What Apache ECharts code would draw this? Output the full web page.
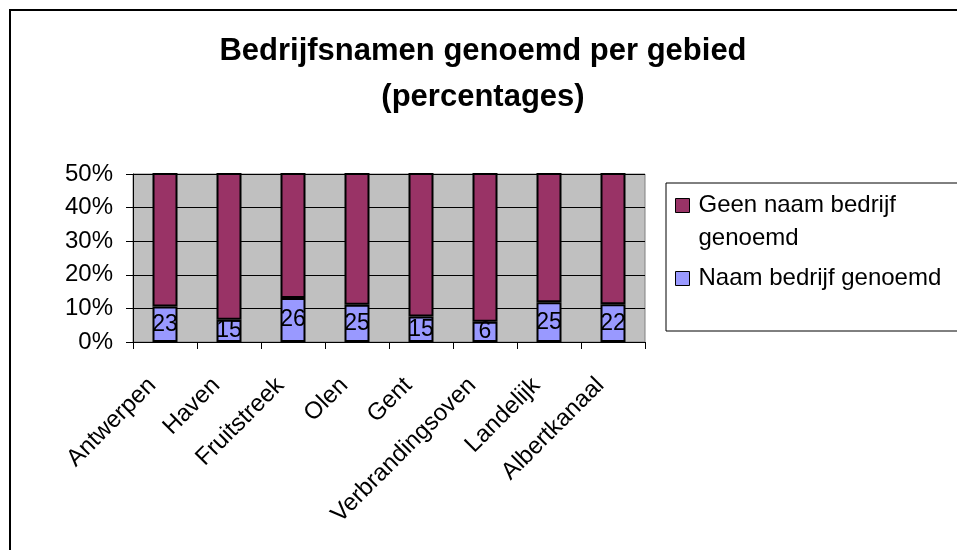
<!DOCTYPE html>
<html>
<head>
<meta charset="utf-8">
<script src="https://cdn.jsdelivr.net/npm/echarts@6/dist/echarts.min.js"></script>
<style>
html,body{margin:0;padding:0;background:#fff}
#main{width:957px;height:550px}
</style>
</head>
<body>
<div id="main"></div>
<script>
var gebieden=['Antwerpen','Haven','Fruitstreek','Olen','Gent','Verbrandingsoven','Landelijk','Albertkanaal']
var naamPct=[10.6,6.6,13.1,11.1,7.6,6.0,11.8,11.2]      // % naam bedrijf genoemd
var geenPct=[89.4,93.4,86.9,88.9,92.4,94.0,88.2,88.8]   // % geen naam (rest tot 100)
var naamAantal=[23,15,26,25,15,6,25,22]                 // labels in de blauwe balken
var yTicks=[0,10,20,30,40,50]

var font='"Liberation Sans", Arial, sans-serif'
var myChart=echarts.init(document.getElementById('main'))
var option={
    backgroundColor:'#fff',
    textStyle:{fontFamily:font,color:'#000'},
    title:{
        text:'Bedrijfsnamen genoemd per gebied\n(percentages)',
        left:478,
        textAlign:'center',
        top:23,
        textStyle:{fontSize:31,fontWeight:'bold',color:'#000',lineHeight:46,fontFamily:font}
    },
    graphic:[
        {type:'rect',z:0,shape:{x:10,y:10,width:1200,height:1200},style:{fill:'none',stroke:'#000',lineWidth:2}},
        {type:'rect',z:0,shape:{x:666,y:183,width:320,height:148},style:{fill:'#fff',stroke:'#000',lineWidth:1}}
    ],
    legend:{
        orient:'vertical',
        left:675,
        top:156,
        padding:0,
        itemGap:7,
        itemWidth:14,
        itemHeight:14,
        icon:'rect',
        z:5,
        itemStyle:{borderColor:'#000',borderWidth:1},
        textStyle:{fontSize:24,lineHeight:33,color:'#000',fontFamily:font,padding:[0,0,0,4]},
        data:['Geen naam bedrijf genoemd','Naam bedrijf genoemd'],
        formatter:function(n){
            // lege eerste regel zodat de eerste tekstregel naast het vakje staat
            return n==='Geen naam bedrijf genoemd'?'\nGeen naam bedrijf\ngenoemd':n
        }
    },
    grid:{
        left:133,right:312,top:174,bottom:208,
        show:true,
        backgroundColor:'#C0C0C0',
        borderColor:'#808080',
        borderWidth:1
    },
    xAxis:{
        type:'category',
        data:gebieden,
        axisLine:{lineStyle:{color:'#000',width:1}},
        axisTick:{show:true,length:7,interval:0,lineStyle:{color:'#000'}},
        axisLabel:{interval:0,rotate:45,fontSize:24,color:'#000',margin:27,padding:[0,18,0,0],fontFamily:font}
    },
    yAxis:{
        type:'value',
        min:yTicks[0],
        max:yTicks[yTicks.length-1],
        interval:10,
        axisLine:{show:true,lineStyle:{color:'#000',width:1}},
        axisTick:{show:true,length:7,lineStyle:{color:'#000'}},
        axisLabel:{fontSize:24,color:'#000',margin:20,formatter:'{value}%',fontFamily:font},
        splitLine:{show:true,lineStyle:{color:'#000',width:1}}
    },
    series:[
        {
            name:'Naam bedrijf genoemd',
            type:'bar',
            stack:'totaal',
            barWidth:25,
            data:naamPct,
            itemStyle:{color:'#9999FF',borderColor:'#000',borderWidth:2},
            label:{
                show:true,
                position:'inside',
                fontSize:23,
                color:'#000',
                fontFamily:font,
                formatter:function(p){return naamAantal[p.dataIndex]}
            }
        },
        {
            name:'Geen naam bedrijf genoemd',
            type:'bar',
            stack:'totaal',
            barWidth:25,
            data:geenPct,
            itemStyle:{color:'#993366',borderColor:'#000',borderWidth:2}
        }
    ]
}
myChart.setOption(option)
</script>
</body>
</html>
